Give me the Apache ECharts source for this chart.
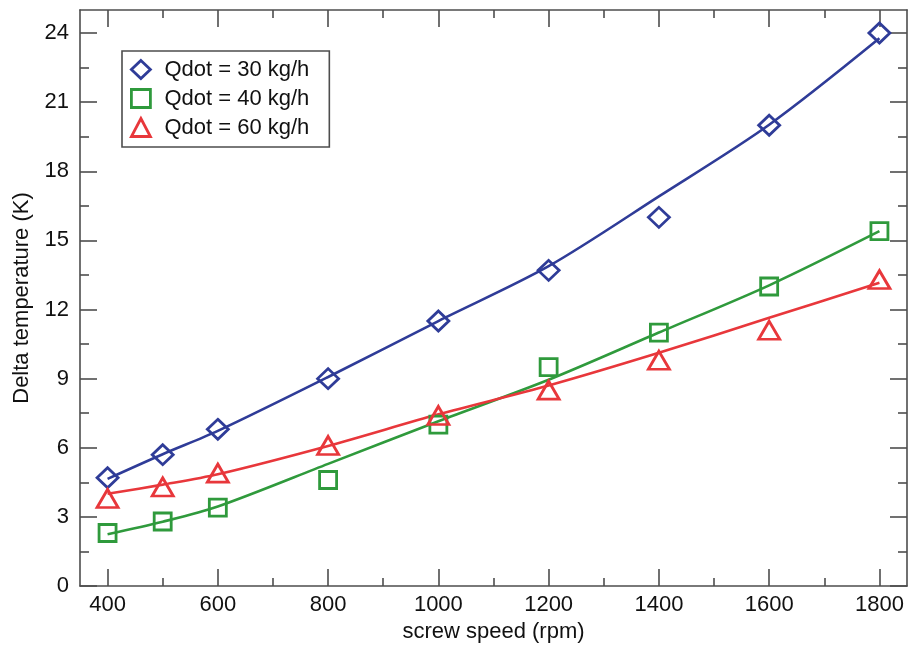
<!DOCTYPE html>
<html>
<head>
<meta charset="utf-8">
<script src="https://cdn.jsdelivr.net/npm/echarts@6/dist/echarts.min.js"></script>
<style>
  html, body { margin: 0; padding: 0; background: #fff; }
  #chart { width: 911px; height: 648px; }
</style>
</head>
<body>
<div id="chart"></div>
<script>
// Screw speed settings (rpm)
const speeds = [400, 500, 600, 800, 1000, 1200, 1400, 1600, 1800];

// Measured temperature rise (K) per throughput
const dT30 = [4.7, 5.7, 6.8, 9.0, 11.5, 13.7, 16.0, 20.0, 24.0];
const dT40 = [2.3, 2.8, 3.4, 4.6, 7.0, 9.5, 11.0, 13.0, 15.4];
const dT60 = [3.8, 4.3, 4.9, 6.1, 7.4, 8.5, 9.8, 11.1, 13.3];

// Fitted trend curves evaluated at each speed
const fit30 = [4.65, 5.72, 6.73, 9.07, 11.5, 13.88, 16.91, 20.02, 23.77];
const fit40 = [2.25, 2.79, 3.45, 5.3, 7.15, 8.95, 11.0, 13.05, 15.4];
const fit60 = [4.0, 4.4, 4.85, 6.08, 7.45, 8.7, 10.12, 11.64, 13.16];

// Axis ticks
const xMajor = [400, 600, 800, 1000, 1200, 1400, 1600, 1800];
const xMinor = [500, 700, 900, 1100, 1300, 1500, 1700];
const yMajor = [0, 3, 6, 9, 12, 15, 18, 21, 24];
const yMinor = [1.5, 4.5, 7.5, 10.5, 13.5, 16.5, 19.5, 22.5];

const seriesNames = ['Qdot = 30 kg/h', 'Qdot = 40 kg/h', 'Qdot = 60 kg/h'];
const colors = ['#2f3c98', '#2f9a3c', '#e8373b'];
const symbols = ['diamond', 'rect', 'triangle'];
const symbolSizes = [[21, 20], [17, 17], [21, 18]];

const AXIS_COLOR = '#4d4d4d';
const TEXT_COLOR = '#111111';
const FONT = 'Liberation Sans, Arial, sans-serif';
const FONT_SIZE = 22;

const pair = (xs, ys) => xs.map((x, i) => [x, ys[i]]);

function xAxisDef(position, ticks, len, showLine, showLabel) {
  return {
    type: 'value', min: 350, max: 1850, position: position,
    axisLine: { show: showLine, onZero: false, lineStyle: { color: AXIS_COLOR, width: 1.6 } },
    axisTick: { show: true, inside: true, length: len, customValues: ticks,
                lineStyle: { color: AXIS_COLOR, width: 1.6 } },
    axisLabel: { show: showLabel, customValues: ticks, margin: 8,
                 formatter: v => String(v),
                 color: TEXT_COLOR, fontSize: FONT_SIZE, fontFamily: FONT },
    splitLine: { show: false }
  };
}
function yAxisDef(position, ticks, len, showLine, showLabel) {
  return {
    type: 'value', min: 0, max: 25, position: position,
    axisLine: { show: showLine, onZero: false, lineStyle: { color: AXIS_COLOR, width: 1.6 } },
    axisTick: { show: true, inside: true, length: len, customValues: ticks,
                lineStyle: { color: AXIS_COLOR, width: 1.6 } },
    axisLabel: { show: showLabel, customValues: ticks, margin: 11,
                 formatter: v => String(v),
                 color: TEXT_COLOR, fontSize: FONT_SIZE, fontFamily: FONT },
    splitLine: { show: false }
  };
}

const xAxes = [
  xAxisDef('bottom', xMajor, 17, true, true),
  xAxisDef('bottom', xMinor, 8, false, false),
  xAxisDef('top', xMajor, 17, true, false),
  xAxisDef('top', xMinor, 8, false, false)
];
Object.assign(xAxes[0], {
  name: 'screw speed (rpm)', nameLocation: 'middle', nameGap: 35,
  nameTextStyle: { color: TEXT_COLOR, fontSize: FONT_SIZE, fontFamily: FONT }
});

const yAxes = [
  yAxisDef('left', yMajor, 17, true, true),
  yAxisDef('left', yMinor, 9, false, false),
  yAxisDef('right', yMajor, 17, true, false),
  yAxisDef('right', yMinor, 9, false, false)
];
Object.assign(yAxes[0], {
  name: 'Delta temperature (K)', nameLocation: 'middle', nameGap: 47,
  nameTextStyle: { color: TEXT_COLOR, fontSize: FONT_SIZE, fontFamily: FONT }
});

const measured = [dT30, dT40, dT60];
const fits = [fit30, fit40, fit60];

const series = [];
fits.forEach((f, i) => {
  series.push({
    name: seriesNames[i] + ' fit', type: 'line', data: pair(speeds, f),
    smooth: 0.3, symbol: 'none', silent: true, z: 2,
    lineStyle: { color: colors[i], width: 2.6 }
  });
});
measured.forEach((m, i) => {
  series.push({
    name: seriesNames[i], type: 'scatter', data: pair(speeds, m),
    symbol: symbols[i], symbolSize: symbolSizes[i], z: 3,
    itemStyle: { color: 'rgba(255,255,255,0)', borderColor: colors[i], borderWidth: 2.8, opacity: 1 }
  });
});

const chart = echarts.init(document.getElementById('chart'), null, { renderer: 'canvas' });
chart.setOption({
  animation: false,
  backgroundColor: '#ffffff',
  grid: { left: 80, top: 10, right: 4, bottom: 61 },
  xAxis: xAxes,
  yAxis: yAxes,
  legend: {
    data: seriesNames.map((n, i) => ({
      name: n, icon: symbols[i],
      itemStyle: { color: 'rgba(255,255,255,0)', borderColor: colors[i], borderWidth: 2.8 }
    })),
    orient: 'vertical', left: 122, top: 51,
    itemWidth: 19, itemHeight: 18, itemGap: 4,
    padding: [6, 20, 7, 8],
    borderColor: AXIS_COLOR, borderWidth: 1.6, backgroundColor: '#fff',
    selectedMode: false,
    textStyle: { color: TEXT_COLOR, fontSize: FONT_SIZE, fontFamily: FONT, lineHeight: 25,
                 padding: [0, 0, 0, 9] }
  },
  series: series
});
</script>
</body>
</html>
